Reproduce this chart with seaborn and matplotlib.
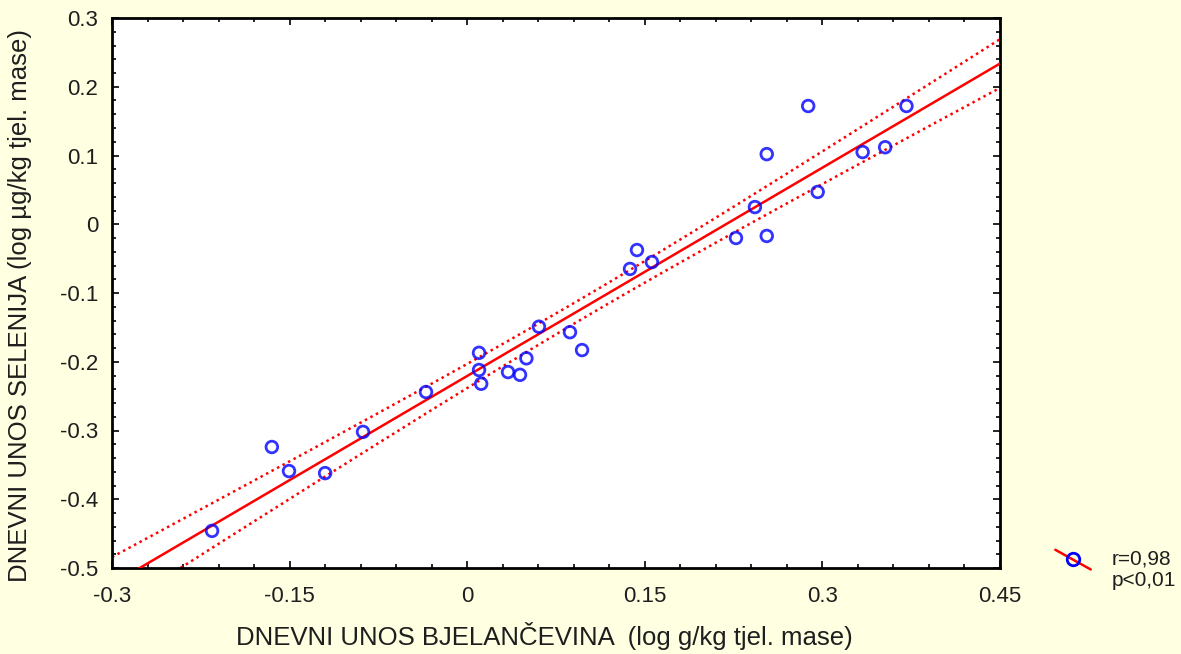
import numpy as np
import pandas as pd
import matplotlib
matplotlib.use("Agg")
import matplotlib.pyplot as plt
import seaborn as sns
from matplotlib.lines import Line2D
from matplotlib.legend_handler import HandlerBase
from matplotlib.ticker import MultipleLocator

# ---- data ----
protein = [-0.2155, -0.165, -0.1505, -0.120, -0.088, -0.0348, 0.010, 0.010, 0.0118,
           0.0345, 0.0446, 0.050, 0.0606, 0.0868, 0.097, 0.1375, 0.1434, 0.156,
           0.227, 0.243, 0.253, 0.253, 0.288, 0.296, 0.334, 0.353, 0.371]
selenium = [-0.446, -0.324, -0.359, -0.362, -0.302, -0.244, -0.187, -0.212, -0.232,
            -0.215, -0.219, -0.195, -0.149, -0.157, -0.183, -0.065, -0.0375, -0.055,
            -0.020, 0.025, 0.102, -0.017, 0.172, 0.047, 0.105, 0.112, 0.172]
xticks = [-0.3, -0.15, 0, 0.15, 0.3, 0.45]
xticklabels = ["-0.3", "-0.15", "0", "0.15", "0.3", "0.45"]
yticks = [-0.5, -0.4, -0.3, -0.2, -0.1, 0, 0.1, 0.2, 0.3]
yticklabels = ["-0.5", "-0.4", "-0.3", "-0.2", "-0.1", "0", "0.1", "0.2", "0.3"]
xlabel = "DNEVNI UNOS BJELANČEVINA  (log g/kg tjel. mase)"
ylabel = "DNEVNI UNOS SELENIJA (log µg/kg tjel. mase)"
legend_text = "r=0,98\np<0,01"

df = pd.DataFrame({"x": protein, "y": selenium})

sns.set_theme(style="white")
plt.rcParams["font.family"] = ["Liberation Sans", "DejaVu Sans"]

BG = "#FFFFE1"
TXT = "#1E1E1E"
fig = plt.figure(figsize=(11.81, 6.54), dpi=100, facecolor=BG)
ax = fig.add_axes([112 / 1181, 1 - 568 / 654, 888 / 1181, 550 / 654])
ax.set_facecolor("white")
ax.set_xlim(-0.3, 0.45)
ax.set_ylim(-0.5, 0.3)

sns.regplot(data=df, x="x", y="y", ax=ax, ci=None, truncate=False,
            scatter_kws=dict(s=70, facecolors="none", edgecolors="#0000FF",
                             linewidths=2, zorder=5),
            line_kws=dict(color="#FF0000", lw=1.8, zorder=3))

# 95% confidence band of the regression line
x = np.asarray(protein)
y = np.asarray(selenium)
n = len(x)
b, a = np.polyfit(x, y, 1)
resid = y - (a + b * x)
s = np.sqrt(np.sum(resid ** 2) / (n - 2))
xs = np.linspace(-0.3, 0.45, 200)
se = s * np.sqrt(1 / n + (xs - x.mean()) ** 2 / np.sum((x - x.mean()) ** 2))
t = 2.06
ax.plot(xs, a + b * xs + t * se, color="#FF0000", lw=1.8, ls=(0, (1, 1.5)), zorder=2)
ax.plot(xs, a + b * xs - t * se, color="#FF0000", lw=1.8, ls=(0, (1, 1.5)), zorder=2)

ax.set_xticks(xticks, labels=xticklabels)
ax.set_yticks(yticks, labels=yticklabels)
ax.xaxis.set_minor_locator(MultipleLocator(0.03))
ax.yaxis.set_minor_locator(MultipleLocator(0.02))
ax.tick_params(which="both", direction="in", top=True, right=True, bottom=True, left=True,
               color="black", width=1.2)
ax.tick_params(which="major", length=5, labelsize=16, labelcolor=TXT)
ax.tick_params(which="minor", length=3)
ax.tick_params(axis="x", which="major", pad=13)
ax.tick_params(axis="y", which="major", pad=10)
for sp in ax.spines.values():
    sp.set_color("black")
    sp.set_linewidth(2)

ax.set_xlabel(xlabel, fontsize=18.5, color=TXT, labelpad=11)
ax.set_ylabel(ylabel, fontsize=18.5, color=TXT, labelpad=20)
ax.xaxis.label.set_x(0.487)
ax.yaxis.label.set_y(0.478)


class DiagonalHandler(HandlerBase):
    def create_artists(self, legend, orig_handle, xdescent, ydescent, width, height,
                       fontsize, trans):
        x0, x1 = -xdescent, -xdescent + width
        line = Line2D([x0, x1], [height * 1.9, height * 0.55], color="#FF0000", lw=1.8)
        mark = Line2D([(x0 + x1) / 2], [height * 1.3], marker="o", markersize=9,
                      markerfacecolor="none", markeredgecolor="#0000FF",
                      markeredgewidth=2, ls="none")
        line.set_transform(trans)
        mark.set_transform(trans)
        return [line, mark]


handle = Line2D([], [], color="#FF0000")
fig.legend([handle], [legend_text], loc="center left",
           handler_map={Line2D: DiagonalHandler()},
           bbox_to_anchor=(1047 / 1181, 1 - 570 / 654), frameon=False,
           fontsize=15, handlelength=1.7, handletextpad=1.0, labelcolor=TXT,
           borderaxespad=0, labelspacing=0.3)

fig.savefig("out.png", dpi=100, facecolor=BG)
